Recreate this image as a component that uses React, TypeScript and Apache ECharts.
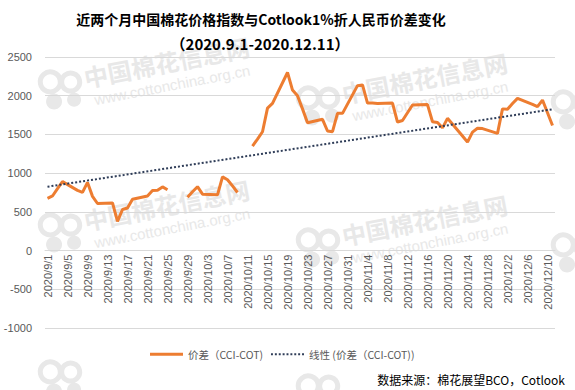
import React, { useEffect, useRef } from "react";
import * as echarts from "echarts";

const titleText = "近两个月中国棉花价格指数与Cotlook1%折人民币价差变化";
const subtitleText = "（2020.9.1-2020.12.11）";
const sourceText = "数据来源：棉花展望BCO，Cotlook";
const seriesName = "价差（CCI-COT)";
const trendName = "线性 (价差（CCI-COT))";

const yTicks = { min: -1000, max: 2500, interval: 500 };

// calendar months covered by the category axis (month, last day shown)
const months: [number, number][] = [[9, 30], [10, 31], [11, 30], [12, 11]];
const categories: string[] = [];
months.forEach(([m, last]) => {
  for (let d = 1; d <= last; d++) categories.push(`2020/${m}/${d}`);
});

// trading days and spread values (null = gap in the line)
const spreadDates = [
  "2020/9/1", "2020/9/2", "2020/9/3", "2020/9/4", "2020/9/7", "2020/9/8", "2020/9/9", "2020/9/10", "2020/9/11",
  "2020/9/14", "2020/9/15", "2020/9/16", "2020/9/17", "2020/9/18", "2020/9/21", "2020/9/22", "2020/9/23",
  "2020/9/24", "2020/9/25", "2020/9/28", "2020/9/29", "2020/9/30", "2020/10/1", "2020/10/2", "2020/10/5",
  "2020/10/6", "2020/10/7", "2020/10/8", "2020/10/9", "2020/10/10", "2020/10/12", "2020/10/13", "2020/10/14",
  "2020/10/15", "2020/10/16", "2020/10/19", "2020/10/20", "2020/10/21", "2020/10/22", "2020/10/23",
  "2020/10/26", "2020/10/27", "2020/10/28", "2020/10/29", "2020/10/30", "2020/11/2", "2020/11/3", "2020/11/4",
  "2020/11/5", "2020/11/6", "2020/11/9", "2020/11/10", "2020/11/11", "2020/11/12", "2020/11/13", "2020/11/16",
  "2020/11/17", "2020/11/18", "2020/11/19", "2020/11/20", "2020/11/23", "2020/11/24", "2020/11/25",
  "2020/11/26", "2020/11/27", "2020/11/30", "2020/12/1", "2020/12/2", "2020/12/3", "2020/12/4", "2020/12/7",
  "2020/12/8", "2020/12/9", "2020/12/10", "2020/12/11",
];
const spreadValues: (number | null)[] = [
  675, 705, 800, 890, 778, 752, 880, 700, 608,
  615, 378, 530, 550, 662, 705, 775, 780,
  822, 785, null, 690, 760, 825, 728, 720,
  952, 915, 835, 750, null, 1350, 1440, 1535,
  1840, 1900, 2300, 2073, 2000, 1830, 1651,
  1695, 1544, 1535, 1772, 1772, 2130, 2140, 1905,
  1905, 1900, 1905, 1660, 1680, 1780, 1880, 1885,
  1664, 1655, 1585, 1708, 1480, 1400, 1530,
  1579, 1575, 1514, 1830, 1824, 1900, 1966, 1888,
  1858, 1944, 1780, 1615,
];

// linear trend line end values
const trendStart = 825;
const trendEnd = 1825;

const ORANGE = "#ED7D31";
const NAVY = "#2F3D58";
const GRAY_TEXT = "#595959";
const WM = "#e8e8e8";

const GRID = { left: 45, right: 20, top: 57, bottom: 62 };
const CHART_H = 390;

function watermark(x: number, y: number, withText: boolean) {
  const children: any[] = [
    { type: "circle", shape: { cx: 12, cy: -8, r: 10 }, style: { fill: "none", stroke: WM, lineWidth: 5 }, z: 0 },
    { type: "circle", shape: { cx: 12, cy: 12, r: 8 }, style: { fill: WM }, z: 0 },
    { type: "circle", shape: { cx: 32, cy: -4, r: 9 }, style: { fill: "none", stroke: WM, lineWidth: 5 }, z: 0 },
    { type: "circle", shape: { cx: 32, cy: 14, r: 7 }, style: { fill: WM }, z: 0 },
  ];
  if (withText) {
    children.push(
      {
        type: "text",
        x: 46,
        y: -6,
        style: {
          text: "中国棉花信息网",
          fill: WM,
          font: 'bold 24px "Noto Sans CJK SC"',
          textVerticalAlign: "middle",
        },
        z: 0,
      },
      {
        type: "text",
        x: 52,
        y: 18,
        style: {
          text: "www.cottonchina.org.cn",
          fill: WM,
          font: '15px "Liberation Sans"',
          textVerticalAlign: "middle",
        },
        z: 0,
      }
    );
  }
  return { type: "group", x, y, rotation: 0.19, silent: true, z: 0, children };
}

// dotted legend icon
const dotPath =
  "path://" +
  Array.from({ length: 9 }, (_, i) => `M${i * 4},0h2v2h-2z`).join(" ");

export default function App() {
  const ref = useRef<HTMLDivElement>(null);

  useEffect(() => {
    if (!ref.current) return;
    const chart = echarts.init(ref.current, undefined, { renderer: "svg" });

    const lineData = spreadDates.map((d, i) => [d, spreadValues[i] === null ? "-" : spreadValues[i]]);
    const trendData = [
      [categories[0], trendStart],
      [categories[categories.length - 1], trendEnd],
    ];

    // place the category axis on the zero line
    const plotH = CHART_H - GRID.top - GRID.bottom;
    const zeroOffset = ((0 - yTicks.min) / (yTicks.max - yTicks.min)) * plotH;

    const wm: any[] = [
      watermark(40, 92, true), watermark(298, 108, true), watermark(553, 112, false),
      watermark(40, 235, true), watermark(298, 250, true), watermark(553, 255, false),
      watermark(40, 382, false), watermark(298, 396, false),
    ];

    chart.setOption({
      animation: false,
      backgroundColor: "#ffffff",
      textStyle: { fontFamily: '"Liberation Sans", Arial, sans-serif' },
      grid: { ...GRID, containLabel: false },
      graphic: [
        ...wm,
        {
          type: "text",
          x: 261,
          y: 19,
          z: 10,
          style: {
            text: titleText,
            fill: "#000",
            font: 'bold 14px "Noto Sans CJK SC"',
            textAlign: "center",
            textVerticalAlign: "middle",
          },
        },
        {
          type: "text",
          x: 260,
          y: 43,
          z: 10,
          style: {
            text: subtitleText,
            fill: "#000",
            font: 'bold 15px "Noto Sans CJK SC"',
            textAlign: "center",
            textVerticalAlign: "middle",
          },
        },
        {
          type: "text",
          x: 565,
          y: 379,
          z: 10,
          style: {
            text: sourceText,
            fill: "#000",
            font: '12px "Noto Sans CJK SC"',
            textAlign: "right",
            textVerticalAlign: "middle",
          },
        },
      ],
      legend: {
        left: 145,
        top: 344,
        itemWidth: 33,
        itemHeight: 3,
        itemGap: 8,
        textStyle: { color: GRAY_TEXT, fontSize: 10.5, fontFamily: '"Noto Sans CJK SC"' },
        data: [
          { name: seriesName, icon: "rect" },
          { name: trendName, icon: dotPath },
        ],
      },
      xAxis: {
        type: "category",
        data: categories,
        boundaryGap: true,
        offset: -zeroOffset,
        axisLine: { show: true, onZero: false, lineStyle: { color: "#d9d9d9" } },
        axisTick: { show: false },
        axisLabel: {
          interval: 3,
          rotate: 90,
          color: GRAY_TEXT,
          fontSize: 11,
          margin: 4,
        },
        splitLine: { show: false },
      },
      yAxis: {
        type: "value",
        min: yTicks.min,
        max: yTicks.max,
        interval: yTicks.interval,
        axisLine: { show: false },
        axisTick: { show: false },
        axisLabel: { color: GRAY_TEXT, fontSize: 11, margin: 13, formatter: (v: number) => String(v) },
        splitLine: { lineStyle: { color: "#d9d9d9", width: 1 } },
      },
      series: [
        {
          name: seriesName,
          type: "line",
          data: lineData,
          symbol: "none",
          connectNulls: false,
          lineStyle: { color: ORANGE, width: 3 },
          itemStyle: { color: ORANGE },
          z: 3,
        },
        {
          name: trendName,
          type: "line",
          data: trendData,
          symbol: "none",
          lineStyle: { color: NAVY, width: 2, type: "dotted" },
          itemStyle: { color: NAVY },
          z: 4,
        },
      ],
    });

    return () => chart.dispose();
  }, []);

  return (
    <div
      ref={ref}
      style={{ position: "absolute", left: 0, top: 0, width: 575, height: 390 }}
    />
  );
}
